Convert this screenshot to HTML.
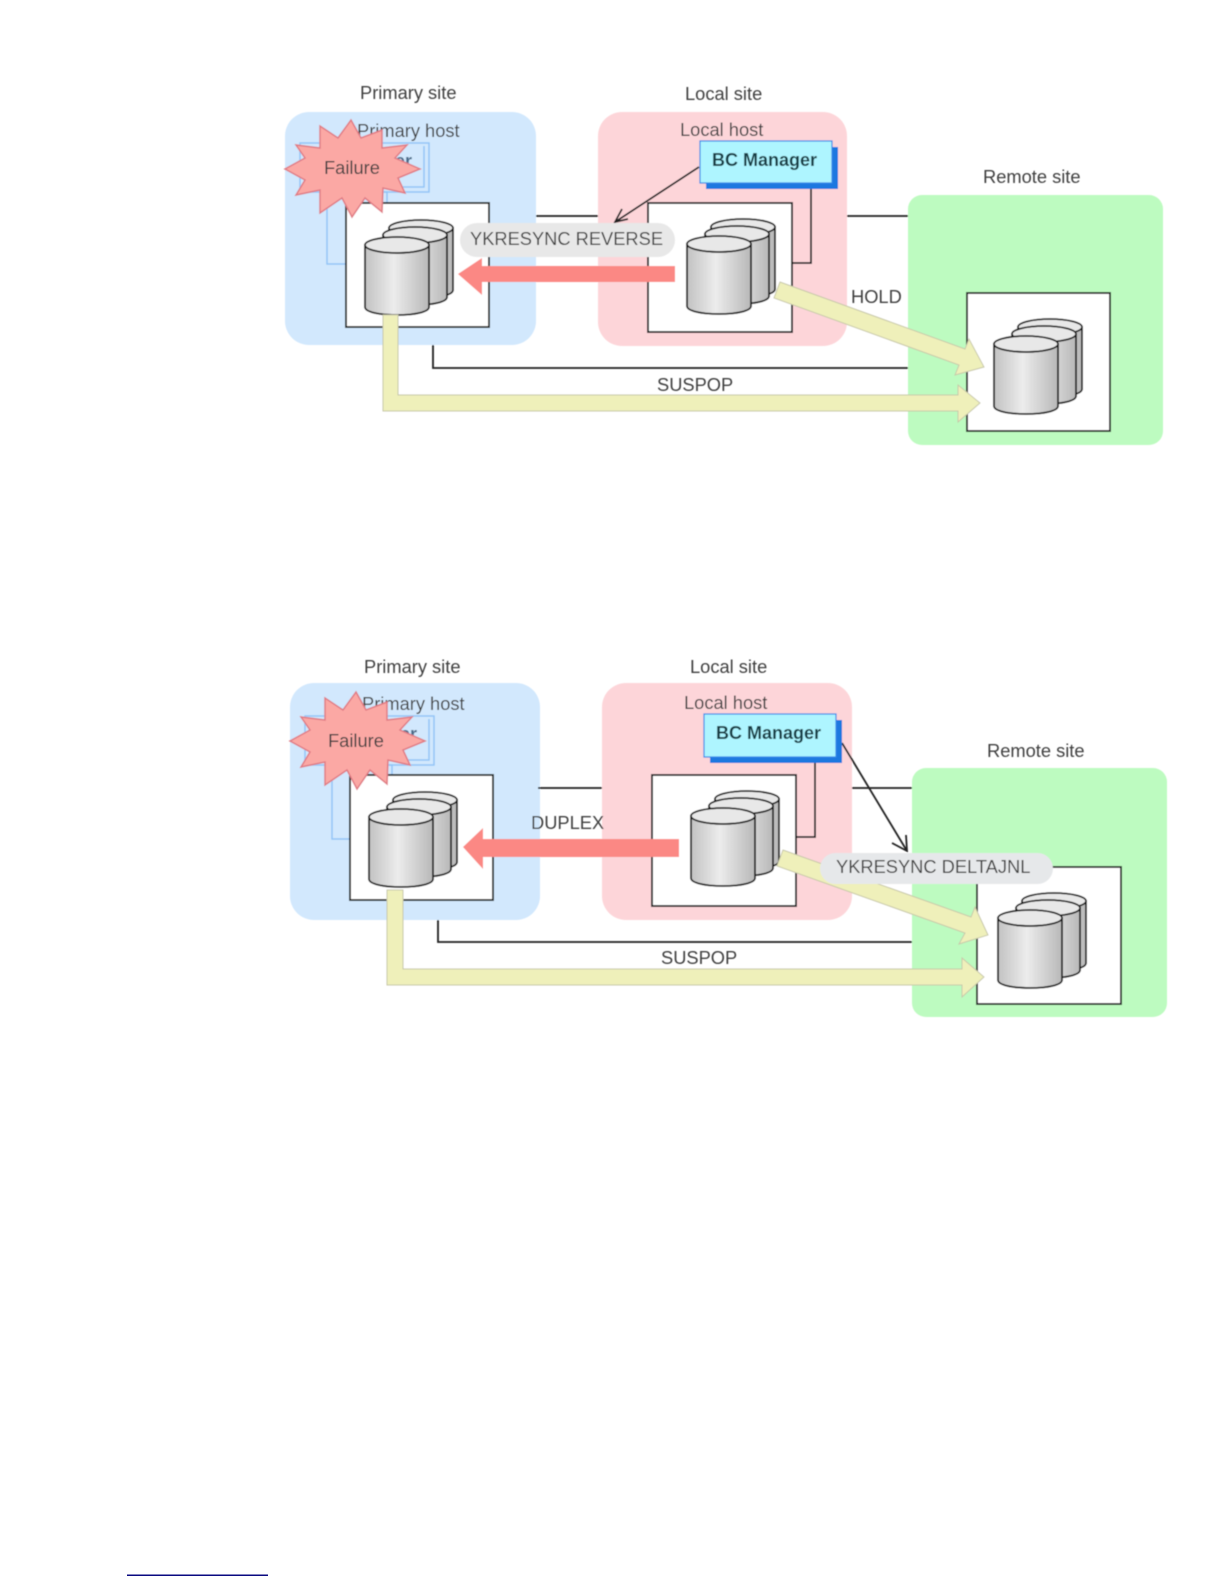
<!DOCTYPE html>
<html><head><meta charset="utf-8"><style>
html,body{margin:0;padding:0;background:#fff;width:1224px;height:1584px;overflow:hidden}
svg{display:block}
text{font-family:"Liberation Sans",sans-serif;font-size:18.300px;fill:#404040}
.b{font-weight:bold;font-size:18px;fill:#123c44}
.f{font-weight:bold;font-size:18px;fill:#4a6a88}
.l{fill:none;stroke:#222;stroke-width:1.8}
.y{fill:#eff0ba;stroke:#c8c8aa;stroke-width:1}
.r{fill:#fb8884}
.box{fill:#fff;stroke:#2a2a2a;stroke-width:2}
.fb{fill:none;stroke:#92c5f7;stroke-width:1.5}
</style></head><body>
<svg width="1224" height="1584" viewBox="0 0 1224 1584" xmlns="http://www.w3.org/2000/svg">
<defs>
<linearGradient id="c" x1="0" x2="1" y1="0" y2="0"><stop offset="0" stop-color="#c2c2c2"/><stop offset=".45" stop-color="#ececec"/><stop offset="1" stop-color="#b8b8b8"/></linearGradient>
<filter id="s" x="-2%" y="-2%" width="104%" height="104%"><feGaussianBlur stdDeviation="0.65"/></filter>
<g id="cyl">
<path d="M0 8V70C0 75 14 78 32 78S64 75 64 70V8Z" fill="url(#c)" stroke="#1e1e1e" stroke-width="1.8"/>
<ellipse cx="32" cy="8" rx="32" ry="8" fill="#e8e8e8" stroke="#1e1e1e" stroke-width="1.8"/>
</g>
<g id="stack">
<use href="#cyl" x="24" y="-17" />
<use href="#cyl" x="18" y="-10"/>
<use href="#cyl" x="0" y="0"/>
</g>
<polygon id="star" points="351,120 361,138 382,130 382,148 407,145 395,158 420,169 398,178 405,193 383,188 382,212 365,198 352,217 342,198 320,213 320,190 296,195 305,180 285,169 305,158 296,145 320,148 320,126 338,138" fill="#fba8a4" stroke="#e07c84" stroke-width="1.5"/>
</defs>
<g filter="url(#s)">
<!-- Diagram 1 -->
<rect x="285" y="112" width="251" height="233" rx="24" fill="#d2e8fd"/>
<rect x="598" y="112" width="249" height="234" rx="24" fill="#fdd5d9"/>
<rect x="908" y="195" width="255" height="250" rx="14" fill="#bdfbc0"/>
<text x="360" y="99">Primary site</text>
<text x="685" y="100">Local site</text>
<text x="983" y="183">Remote site</text>
<text x="357" y="137">Primary host</text>
<text x="680" y="136">Local host</text>
<rect x="327" y="192" width="60" height="72" class="fb"/>
<rect x="300" y="143" width="129" height="49" class="fb"/>
<path class="fb" d="M424 146V187H300"/>
<text x="307" y="167" class="f">BC Manager</text>
<path class="l" d="M536 216H598M847 216H908M433 345V368H908"/>
<rect x="346" y="203" width="143" height="124" class="box"/>
<rect x="648" y="203" width="144" height="129" class="box"/>
<rect x="967" y="293" width="143" height="138" class="box"/>
<path class="l" d="M811 188V263H792"/>
<use href="#stack" x="365" y="237"/>
<use href="#stack" x="687" y="236"/>
<use href="#stack" x="994" y="336"/>
<path class="y" d="M383 315H398V395H958V385L980 403L958 422V411H383Z"/>
<path class="y" d="M780 282L965 349L969 339L984 367L955 375L959 365L774 298Z"/>
<path class="l" d="M699 167L615 222M628 219L615 222L622 209"/>
<rect x="460" y="223" width="215" height="34" rx="17" fill="#e8e8e8"/>
<text x="470" y="245">YKRESYNC REVERSE</text>
<path class="r" d="M675 266V282H482V295L458 274L482 258V266Z"/>
<text x="851" y="303">HOLD</text>
<text x="657" y="391">SUSPOP</text>
<path d="M706 147H838V189H706Z" fill="#1f78e0"/>
<rect x="700" y="141" width="132" height="42" fill="#aef5ff" stroke="#2f88e8" stroke-width="1.2"/>
<text x="712" y="166" class="b">BC Manager</text>
<use href="#star"/>
<text x="324" y="174" fill="#5c2c30">Failure</text>

<!-- Diagram 2 -->
<rect x="290" y="683" width="250" height="237" rx="24" fill="#d2e8fd"/>
<rect x="602" y="683" width="250" height="237" rx="24" fill="#fdd5d9"/>
<rect x="912" y="768" width="255" height="249" rx="14" fill="#bdfbc0"/>
<text x="364" y="673">Primary site</text>
<text x="690" y="673">Local site</text>
<text x="987" y="757">Remote site</text>
<text x="362" y="710">Primary host</text>
<text x="684" y="709">Local host</text>
<rect x="332" y="765" width="60" height="74" class="fb"/>
<rect x="305" y="716" width="129" height="49" class="fb"/>
<path class="fb" d="M429 719V760H305"/>
<text x="312" y="740" class="f">BC Manager</text>
<path class="l" d="M538 788H602M852 788H912M438 920V942H912"/>
<rect x="350" y="775" width="143" height="125" class="box"/>
<rect x="652" y="775" width="144" height="131" class="box"/>
<rect x="977" y="867" width="144" height="137" class="box"/>
<path class="l" d="M815 760V837H796"/>
<use href="#stack" x="369" y="809"/>
<use href="#stack" x="691" y="808"/>
<use href="#stack" x="998" y="910"/>
<path class="y" d="M387 890H403V969H962V958L984 977L962 997V985H387Z"/>
<path class="y" d="M783 850L971 917L975 907L988 935L959 944L965 933L777 866Z"/>
<path class="l" d="M842 743L907 851M892 843L907 851L906 835"/>
<rect x="820" y="853" width="233" height="31" rx="15.500" fill="#e6e8ea"/>
<text x="836" y="873">YKRESYNC DELTAJNL</text>
<path class="r" d="M679 839V857H483V869L463 847L483 828V839Z"/>
<text x="531" y="829">DUPLEX</text>
<text x="661" y="964">SUSPOP</text>
<path d="M710 720H842V763H710Z" fill="#1f78e0"/>
<rect x="704" y="714" width="132" height="43" fill="#aef5ff" stroke="#2f88e8" stroke-width="1.2"/>
<text x="716" y="739" class="b">BC Manager</text>
<use href="#star" x="5" y="572"/>
<text x="328" y="747" fill="#5c2c30">Failure</text>
</g>
<rect x="127" y="1574.500" width="141" height="1.500" fill="#0a0a80"/>
</svg>
</body></html>
